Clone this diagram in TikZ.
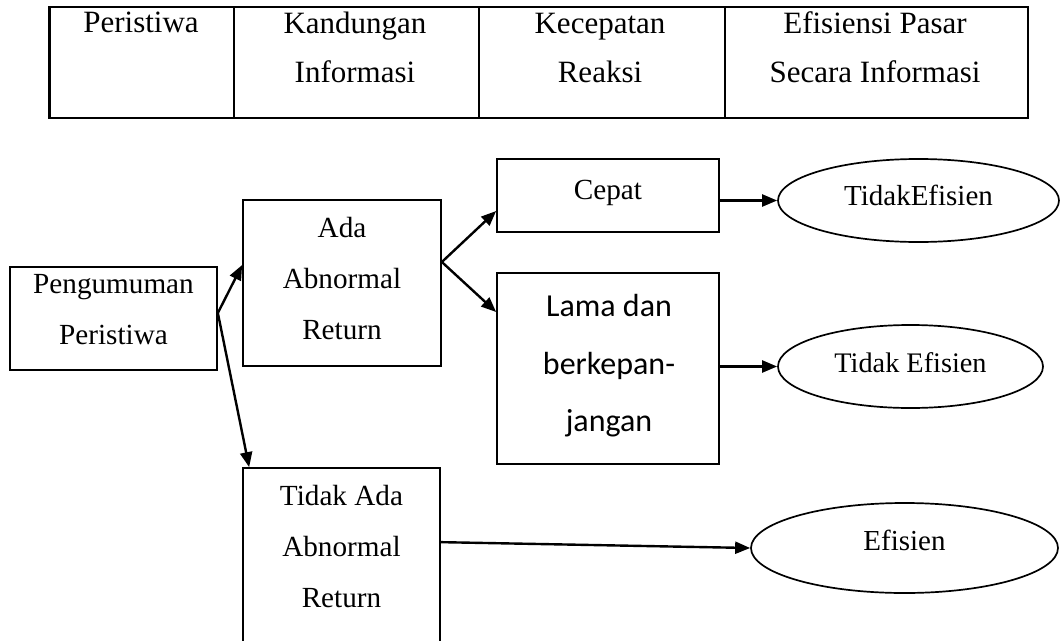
\documentclass[tikz,border=0pt]{standalone}
\usepackage{fontspec}
\setmainfont{Liberation Serif}
\newfontfamily\calfont{Carlito}
\usetikzlibrary{arrows.meta,shapes.geometric}
\begin{document}
\begin{tikzpicture}[x=1pt,y=-1pt,
  box/.style={draw, line width=1.7pt, inner sep=0pt, rectangle},
  oval/.style={draw, ellipse, line width=1.7pt, inner sep=0pt, text height=19.5pt, font=\fontsize{29}{34}\selectfont},
  txt/.style={inner sep=0pt, align=center, font=\fontsize{29.2}{51}\selectfont},
  sanstxt/.style={inner sep=0pt, align=center, font=\calfont\fontsize{32}{57.5}\selectfont},
  tabtxt/.style={inner sep=0pt, align=center, font=\fontsize{31}{49}\selectfont},
  conn/.style={line width=2.4pt, -{Triangle[length=15pt,width=12pt]}},
  tabline/.style={line width=2.2pt}]
\useasboundingbox (0,0) rectangle (1060,640);
\clip (0,0) rectangle (1060,640);
% table
\draw[tabline] (49.5,7) rectangle (1028,118);
\draw[tabline] (234,7) -- (234,118);
\draw[tabline] (479,7) -- (479,118);
\draw[tabline] (725,7) -- (725,118);
\node[tabtxt] (h1) at (141,22.5) {Peristiwa};
\node[tabtxt] (h2) at (355,47.5) {Kandungan\\Informasi};
\node[tabtxt] (h3) at (600,47.5) {Kecepatan\\Reaksi};
\node[tabtxt] (h4) at (875,47.5) {Efisiensi Pasar\\Secara Informasi};
% boxes
\node[box, minimum width=207pt, minimum height=103pt] (peng) at (113.5,318.5) {};
\node[box, minimum width=198pt, minimum height=166pt] (ada) at (342,283) {};
\node[box, minimum width=222pt, minimum height=73pt] (cepat) at (608,195.5) {};
\node[box, minimum width=222pt, minimum height=191pt] (lama) at (608,368.5) {};
\node[box, minimum width=197pt, minimum height=232pt] (tidak) at (341.5,584) {};
% box texts
\node[txt] (pengt) at (113.5,310) {Pengumuman\\Peristiwa};
\node[txt] (adat) at (342,278.5) {Ada\\Abnormal\\Return};
\node[txt] (cepatt) at (608,193) {Cepat};
\node[sanstxt] (lamat) at (609,366) {Lama dan\\berkepan-\\jangan};
\node[txt] (tidakt) at (341.5,546.5) {Tidak Ada\\Abnormal\\Return};
% ellipses
\node[oval, minimum width=281pt, minimum height=83pt, text depth=10.5pt] (e1) at (918.5,200.5) {TidakEfisien};
\node[oval, minimum width=265pt, minimum height=83pt, text depth=8.5pt, font=\fontsize{28.3}{34}\selectfont] (e2) at (910.5,366.5) {Tidak Efisien};
\node[oval, minimum width=307pt, minimum height=90pt, text depth=15.5pt] (e3) at (904.5,548) {Efisien};
% connectors
\coordinate (split) at ([yshift=5.5pt]peng.east);
\coordinate (branch) at ([yshift=21pt]ada.east);
\draw[conn] (split) -- ([yshift=18pt]ada.west);
\draw[conn] (split) -- ([xshift=7pt]tidak.north west);
\draw[conn] (branch) -- ([yshift=-15.5pt]cepat.west);
\draw[conn] (branch) -- ([yshift=56.5pt]lama.west);
\draw[conn] (cepat.east |- e1.west) -- (e1.west);
\draw[conn] (lama.east |- e2.west) -- (e2.west);
\draw[conn] ([yshift=-75pt]tidak.north east) -- (e3.west);
\end{tikzpicture}
\end{document}
